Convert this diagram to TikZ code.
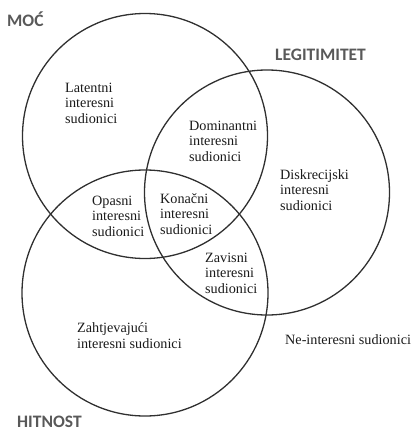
\documentclass[tikz,border=0pt]{standalone}
\usepackage{fontspec}
\setmainfont{Liberation Serif}
\newfontfamily\labelfont{Carlito}
\definecolor{lblgray}{HTML}{595959}
\definecolor{linegray}{HTML}{303030}
\definecolor{txt}{HTML}{1A1A1A}
\begin{document}
\begin{tikzpicture}[x=1pt,y=-1pt,
  ring/.style={draw=linegray,line width=1.3pt},
  region/.style={anchor=west,align=left,inner sep=0pt,text=txt,font=\fontsize{14.2}{15.6}\selectfont},
  setlabel/.style={anchor=base west,inner sep=0pt,text=lblgray,font=\labelfont\bfseries\fontsize{17.5}{20}\selectfont}]
\useasboundingbox (0,0) rectangle (415,431);
\draw[ring] (145,136) circle (122.5);
\draw[ring] (267,192.5) circle (122.5);
\draw[ring] (145,293) circle (123);
\node[setlabel] (moc) at (7,27) {MOĆ};
\node[setlabel] (leg) at (275,60) {LEGITIMITET};
\node[setlabel] (hit) at (17,427) {HITNOST};
\node[region] (lat) at (65,103) {Latentni\\interesni\\sudionici};
\node[region] (dom) at (189,141) {Dominantni\\interesni\\sudionici};
\node[region] (dis) at (280,190) {Diskrecijski\\interesni\\sudionici};
\node[region] (opa) at (92,216) {Opasni\\interesni\\sudionici};
\node[region] (kon) at (160,214) {Konačni\\interesni\\sudionici};
\node[region] (zav) at (205,273) {Zavisni\\interesni\\sudionici};
\node[region] (zah) at (77,335.5) {Zahtjevajući\\interesni sudionici};
\node[region] (ne) at (285,340) {Ne-interesni sudionici};
\end{tikzpicture}
\end{document}
